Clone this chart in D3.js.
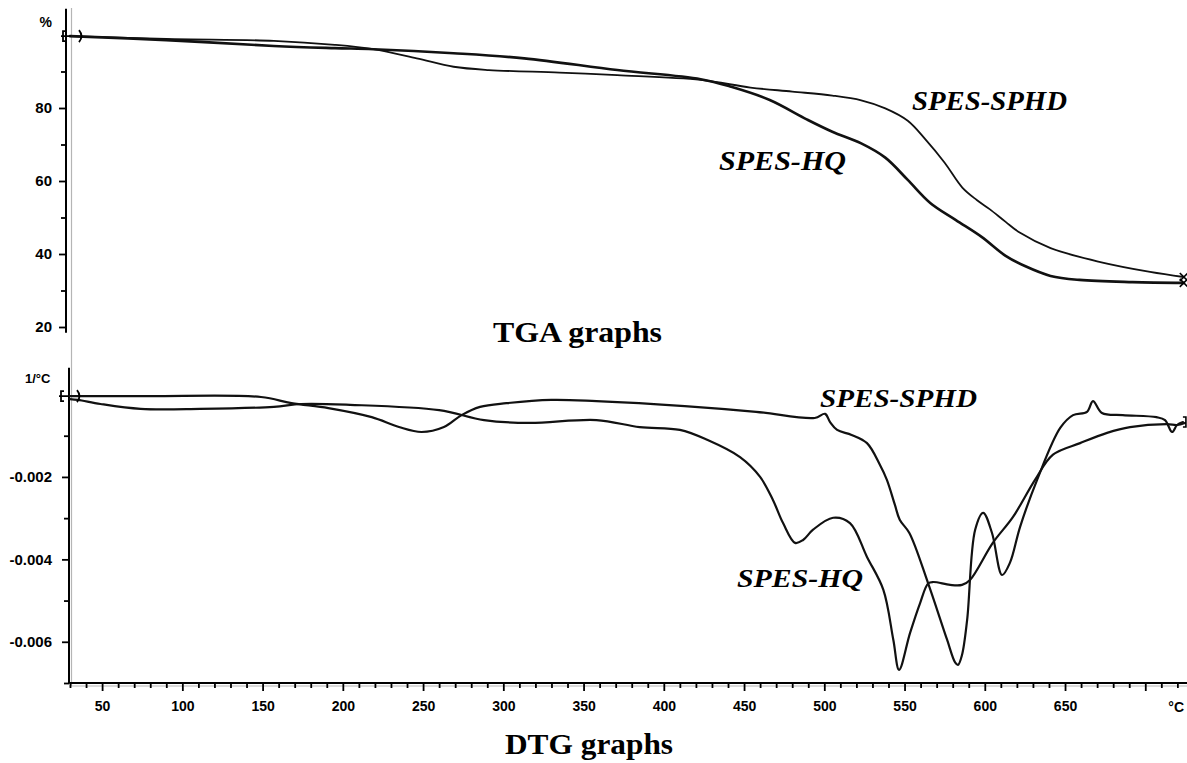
<!DOCTYPE html>
<html><head><meta charset="utf-8">
<script src="https://cdn.jsdelivr.net/npm/d3@7"></script>
<style>body{margin:0;background:#fff}svg{display:block;background:#fff}</style>
</head><body>
<svg id="c" width="1187" height="763"></svg>
<script>
// ---------- DATA (temperature °C, value) ----------
const tgaSPHD = [[30,99.7],[90,98.9],[157,98.4],[195,97.3],[219,96.1],[246,93.6],[269,91.3],[291,90.4],[335,89.7],[371,89.0],[423,87.7],[454,85.6],[480,84.5],[505,83.4],[523,82.1],[538,79.9],[552,76.5],[563,71.4],[575,65.0],[586,58.2],[595,54.8],[603,52.3],[613,48.8],[622,45.8],[641,41.6],[672,37.8],[703,35.1],[724,33.7]];
const tgaHQ = [[30,99.7],[90,98.6],[157,97.0],[195,96.4],[219,96.1],[269,95.0],[313,93.6],[371,90.4],[423,87.9],[442,85.8],[466,82.2],[489,76.9],[505,73.5],[523,70.3],[538,66.4],[552,60.3],[566,54.0],[582,49.3],[598,44.7],[613,39.5],[625,36.7],[641,34.0],[659,32.9],[692,32.3],[724,32.1]];
const dtgSPHD = [[30,-0.00004],[79,-0.00004],[149,-0.00006],[168,-0.00021],[191,-0.00033],[218,-0.00055],[235,-0.00079],[249,-0.00091],[263,-0.00079],[274,-0.0005],[285.5,-0.0003],[302,-0.00021],[330,-0.00013],[358,-0.00016],[413,-0.00028],[457.5,-0.00042],[494,-0.00057],[500.5,-0.00047],[503.6,-0.00067],[508,-0.00086],[517,-0.00098],[526.6,-0.00118],[534.7,-0.00171],[539,-0.00207],[544,-0.00268],[547,-0.00304],[553,-0.00336],[564.6,-0.00457],[576.5,-0.00595],[581.5,-0.0065],[583.3,-0.00656],[585.8,-0.00632],[589,-0.00547],[594,-0.00328],[599,-0.00287],[604.5,-0.00336],[610.8,-0.00438],[615.7,-0.00408],[622,-0.00321],[632.6,-0.00207],[647,-0.00081],[655,-0.0005],[663.7,-0.00042],[667.4,-0.00016],[673,-0.00045],[686,-0.0005],[707,-0.00055],[712.3,-0.00062],[716.7,-0.00091],[719.8,-0.00074],[723.5,-0.00067]];
const dtgHQ = [[30,-0.00011],[35,-0.00013],[49,-0.00023],[74,-0.00035],[111,-0.00035],[157,-0.0003],[174,-0.00023],[204.5,-0.00025],[260,-0.00038],[288,-0.00062],[316,-0.00069],[358,-0.00062],[385,-0.00079],[410,-0.00086],[427,-0.0011],[447.5,-0.00152],[460,-0.002],[468,-0.00256],[474.3,-0.00312],[481.8,-0.0036],[486.8,-0.00353],[493,-0.00328],[505.5,-0.00299],[516,-0.00312],[526.6,-0.00394],[536.8,-0.00474],[543,-0.00595],[546.6,-0.00668],[553.4,-0.00579],[559.7,-0.00506],[564.8,-0.00458],[568,-0.00455],[578.4,-0.00462],[585.8,-0.00462],[590.8,-0.0045],[605,-0.0036],[617.6,-0.00297],[631.3,-0.00207],[642.5,-0.00146],[659.4,-0.00118],[676.2,-0.00093],[690.5,-0.00079],[713.5,-0.00072],[719.8,-0.00074],[724.7,-0.00069]];

const xTicksMajor = [50,100,150,200,250,300,350,400,450,500,550,600,650,700];
const xTicksMinor = [30,40,60,70,80,90,110,120,130,140,160,170,180,190,210,220,230,240,260,270,280,290,310,320,330,340,360,370,380,390,410,420,430,440,460,470,480,490,510,520,530,540,560,570,580,590,610,620,630,640,660,670,680,690,710,720];
const xTickLabels = ["50","100","150","200","250","300","350","400","450","500","550","600","650",""];
const yTicksTGA = [20,40,60,80];
const yTicksTGAminor = [30,50,70,90];
const yTicksDTG = [-0.002,-0.004,-0.006];
const yTicksDTGminor = [-0.001,-0.003,-0.005,-0.007];
const yTickLabelsDTG = ["-0.002","-0.004","-0.006"];
const xExtent = [29.5, 726];
const yExtentTGA = [18.4, 107.2];
const yExtentDTG = [-0.007, 0.00065];

// ---------- SCALES ----------
const svg = d3.select("#c");
const x = d3.scaleLinear().domain([30,725]).range([70,1185.4]);
const yT = d3.scaleLinear().domain([20,100]).range([327,35]);
const yD = d3.scaleLinear().domain([-0.007,0]).range([683,394.5]);
const topAxisX = 66, botAxisX = 69;

const tickFont = "'Liberation Sans', Arial, sans-serif";
const serif = "'Liberation Serif', 'Times New Roman', serif";

// grey scan double lines
svg.append("line").attr("x1",71.5).attr("x2",71.5).attr("y1",8).attr("y2",686)
  .attr("stroke","#b5b5b5").attr("stroke-width",1.2);
svg.append("line").attr("x1",x(xExtent[0])).attr("x2",x(xExtent[1])).attr("y1",686).attr("y2",686)
  .attr("stroke","#b5b5b5").attr("stroke-width",1.2);

function styleAxis(g, size){
  g.select(".domain").remove();
  g.selectAll("line").attr("stroke","#000").attr("stroke-width",1.8);
  g.selectAll("text").attr("font-family",tickFont).attr("font-weight","bold")
    .attr("font-size",size).attr("fill","#000");
}

// ---------- TOP (TGA) Y AXIS ----------
svg.append("line").attr("x1",topAxisX).attr("x2",topAxisX)
  .attr("y1",yT(yExtentTGA[0])).attr("y2",yT(yExtentTGA[1])).attr("stroke","#000").attr("stroke-width",2);
svg.append("g").attr("transform",`translate(${topAxisX},0)`)
  .call(d3.axisLeft(yT).tickValues(yTicksTGA).tickSize(7).tickPadding(7).tickFormat(d3.format("d")))
  .call(g=>styleAxis(g,15));
svg.append("g").attr("transform",`translate(${topAxisX},0)`)
  .call(d3.axisLeft(yT).tickValues(yTicksTGAminor).tickSize(5).tickFormat(""))
  .call(g=>styleAxis(g,15));
svg.append("text").attr("x",52).attr("y",27).attr("text-anchor","end")
  .attr("font-family",tickFont).attr("font-weight","bold").attr("font-size",14).text("%");

// ---------- BOTTOM (DTG) Y AXIS ----------
svg.append("line").attr("x1",botAxisX).attr("x2",botAxisX)
  .attr("y1",yD(yExtentDTG[0])).attr("y2",yD(yExtentDTG[1])).attr("stroke","#000").attr("stroke-width",2);
svg.append("g").attr("transform",`translate(${botAxisX},0)`)
  .call(d3.axisLeft(yD).tickValues(yTicksDTG).tickSize(7).tickPadding(10).tickFormat((d,i)=>yTickLabelsDTG[i]))
  .call(g=>styleAxis(g,15));
svg.append("g").attr("transform",`translate(${botAxisX},0)`)
  .call(d3.axisLeft(yD).tickValues(yTicksDTGminor).tickSize(5).tickFormat(""))
  .call(g=>styleAxis(g,15));
svg.append("text").attr("x",25).attr("y",383)
  .attr("font-family",tickFont).attr("font-weight","bold").attr("font-size",13).text("1/°C");

// ---------- X AXIS ----------
const xAxisY = yD(-0.007);
svg.append("line").attr("x1",x(xExtent[0])).attr("x2",x(xExtent[1]))
  .attr("y1",xAxisY).attr("y2",xAxisY).attr("stroke","#000").attr("stroke-width",2.2);
svg.append("g").attr("transform",`translate(0,${xAxisY})`)
  .call(d3.axisBottom(x).tickValues(xTicksMinor).tickSize(5).tickFormat(""))
  .call(g=>styleAxis(g,14));
svg.append("g").attr("transform",`translate(0,${xAxisY})`)
  .call(d3.axisBottom(x).tickValues(xTicksMajor).tickSize(8).tickPadding(10).tickFormat((d,i)=>xTickLabels[i]))
  .call(g=>styleAxis(g,14));
svg.append("text").attr("x",x(xExtent[1])-3).attr("y",xAxisY+29).attr("text-anchor","end")
  .attr("font-family",tickFont).attr("font-weight","bold").attr("font-size",14).text("°C");

// ---------- CURVES ----------
const curve = d3.curveCatmullRom.alpha(0.5);
const lineT = d3.line().x(d=>x(d[0])).y(d=>yT(d[1])).curve(curve);
const lineD = d3.line().x(d=>x(d[0])).y(d=>yD(d[1])).curve(curve);
const curves = [
  {data:tgaSPHD, gen:lineT, w:1.8},
  {data:tgaHQ, gen:lineT, w:2.6},
  {data:dtgSPHD, gen:lineD, w:2.2},
  {data:dtgHQ, gen:lineD, w:2.2}
];
curves.forEach(c=>{
  svg.append("path").attr("d",c.gen(c.data)).attr("fill","none")
    .attr("stroke","#111").attr("stroke-width",c.w).attr("stroke-linejoin","round").attr("stroke-linecap","round");
});

// start / end markers
function startMarker(px,py){
  svg.append("path").attr("d",`M${px-4},${py-5} L${px-7},${py-5} L${px-7},${py+5} L${px-4},${py+5} M${px-9},${py} L${px+1},${py}`)
    .attr("fill","none").attr("stroke","#000").attr("stroke-width",1.8);
  svg.append("path").attr("d",`M${px+9},${py-6} Q${px+14},${py} ${px+9},${py+6}`)
    .attr("fill","none").attr("stroke","#000").attr("stroke-width",1.8);
}
startMarker(x(tgaHQ[0][0]), yT(tgaHQ[0][1]));
startMarker(x(dtgSPHD[0][0])-2, yD(dtgSPHD[0][1]));
[tgaSPHD, tgaHQ].forEach(d=>{
  const e=d[d.length-1], px=x(e[0]), py=yT(e[1]);
  svg.append("path").attr("d",`M${px-4},${py-4} L${px+4},${py+4} M${px-4},${py+4} L${px+4},${py-4}`)
    .attr("stroke","#000").attr("stroke-width",1.6);
});
{
  const e=dtgHQ[dtgHQ.length-1], px=x(e[0]), py=yD(e[1]);
  svg.append("path").attr("d",`M${px-2},${py-6} L${px+1},${py-6} L${px+1},${py+4} L${px-2},${py+4}`)
    .attr("fill","none").attr("stroke","#000").attr("stroke-width",1.6);
}

// ---------- LABELS ----------
function lab(txt,xx,yy,len,size,italic){
  svg.append("text").attr("x",xx).attr("y",yy)
    .attr("font-family",serif).attr("font-weight","bold").attr("font-style",italic?"italic":"normal")
    .attr("font-size",size).attr("textLength",len).attr("lengthAdjust","spacingAndGlyphs").text(txt);
}
lab("SPES-SPHD", 912, 110, 155, 27, true);
lab("SPES-HQ", 719, 170, 127, 27, true);
lab("SPES-SPHD", 820, 407, 157, 26, true);
lab("SPES-HQ", 737, 587, 126, 26, true);
lab("TGA graphs", 493, 342, 169, 30, false);
lab("DTG graphs", 505, 754, 168, 30, false);
</script>
</body></html>
